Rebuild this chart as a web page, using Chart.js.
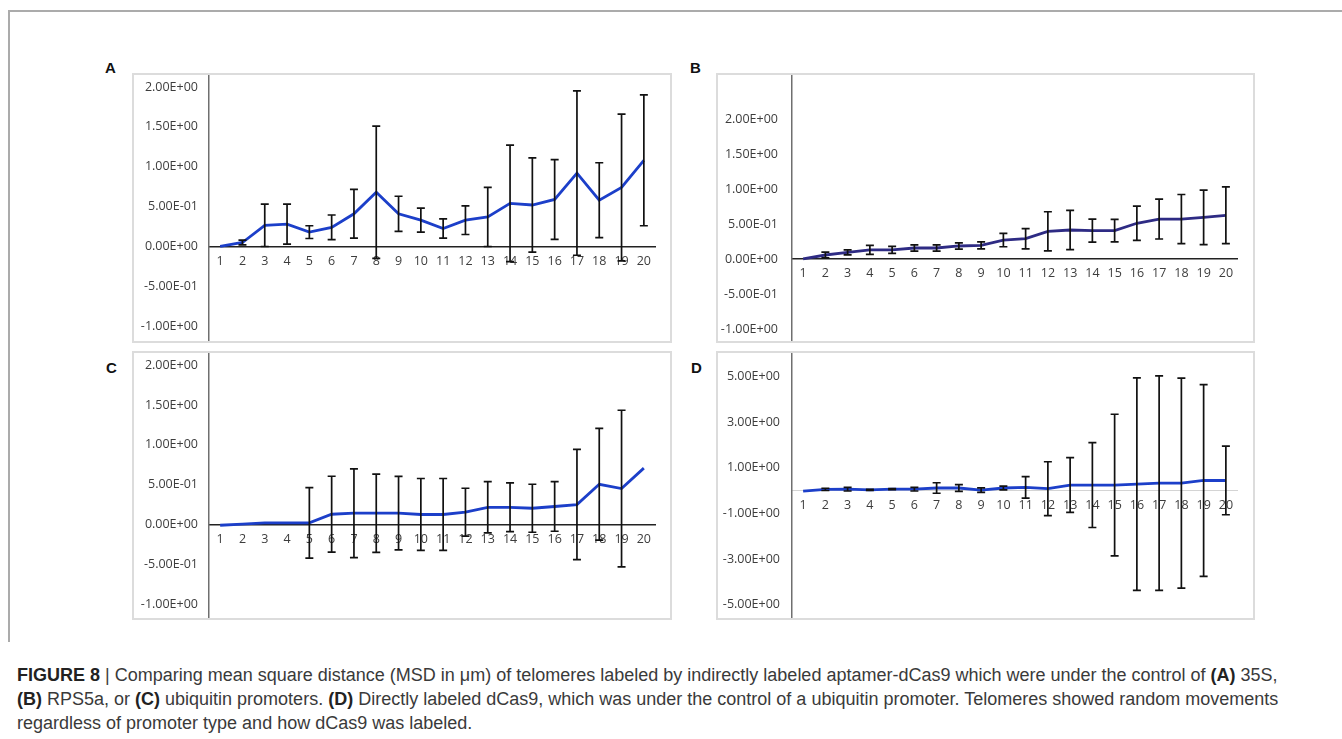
<!DOCTYPE html>
<html>
<head>
<meta charset="utf-8">
<script src="https://cdn.jsdelivr.net/npm/chart.js@4.4.0/dist/chart.umd.min.js"></script>
<style>
body { margin:0; width:1342px; height:739px; background:#fff; position:relative; overflow:hidden; font-family:"Liberation Sans", Arial, sans-serif; }
.frameTop { position:absolute; left:8px; top:10px; width:1334px; height:2px; background:#ababab; }
.frameLeft { position:absolute; left:8px; top:10px; width:2px; height:632px; background:#ababab; }
.panel { position:absolute; }
.box { position:absolute; border:2px solid #dcdcdc; box-sizing:border-box; pointer-events:none; }
.letter { position:absolute; font:bold 15px "Liberation Sans", Arial, sans-serif; color:#111; line-height:15px; }
.caption { position:absolute; left:17px; top:663px; font-size:18px; line-height:24px; color:#3a3a3a; white-space:nowrap; }
.caption b { color:#222; }
</style>
</head>
<body>
<div class="frameTop"></div>
<div class="frameLeft"></div>

<div class="letter" style="left:105px;top:60px">A</div>
<div class="letter" style="left:690px;top:60px">B</div>
<div class="letter" style="left:106px;top:360px">C</div>
<div class="letter" style="left:691px;top:360px">D</div>

<div class="panel" style="left:132px;top:73px;width:540px;height:270px"><canvas id="chartA"></canvas></div>
<div class="panel" style="left:716px;top:73px;width:539px;height:270px"><canvas id="chartB"></canvas></div>
<div class="panel" style="left:132px;top:351px;width:540px;height:269px"><canvas id="chartC"></canvas></div>
<div class="panel" style="left:716px;top:351px;width:539px;height:269px"><canvas id="chartD"></canvas></div>
<div class="box" style="left:132px;top:73px;width:540px;height:270px"></div>
<div class="box" style="left:716px;top:73px;width:539px;height:270px"></div>
<div class="box" style="left:132px;top:351px;width:540px;height:269px"></div>
<div class="box" style="left:716px;top:351px;width:539px;height:269px"></div>

<div class="caption">
<b>FIGURE 8</b> | Comparing mean square distance (MSD in μm) of telomeres labeled by indirectly labeled aptamer-dCas9 which were under the control of <b>(A)</b> 35S,<br>
<b>(B)</b> RPS5a, or <b>(C)</b> ubiquitin promoters. <b>(D)</b> Directly labeled dCas9, which was under the control of a ubiquitin promoter. Telomeres showed random movements<br>
regardless of promoter type and how dCas9 was labeled.
</div>

<script>
// time steps
const steps = ['1','2','3','4','5','6','7','8','9','10','11','12','13','14','15','16','17','18','19','20'];

// A: 35S
const meanA = [0, 0.05, 0.265, 0.28, 0.18, 0.24, 0.41, 0.68, 0.41, 0.33, 0.225, 0.33, 0.37, 0.54, 0.52, 0.59, 0.92, 0.58, 0.74, 1.08];
const errA  = [0, 0.03, 0.265, 0.25, 0.08, 0.155, 0.305, 0.83, 0.22, 0.15, 0.12, 0.18, 0.37, 0.73, 0.59, 0.5, 1.03, 0.47, 0.92, 0.82];

// B: RPS5a
const meanB = [0, 0.057, 0.095, 0.13, 0.13, 0.157, 0.157, 0.186, 0.195, 0.27, 0.29, 0.395, 0.414, 0.405, 0.405, 0.51, 0.571, 0.571, 0.595, 0.624];
const errB  = [0, 0.04, 0.035, 0.065, 0.05, 0.045, 0.045, 0.045, 0.05, 0.095, 0.145, 0.28, 0.28, 0.165, 0.16, 0.245, 0.285, 0.35, 0.39, 0.405];

// C: ubiquitin (aptamer)
const meanC = [-0.005, 0.01, 0.025, 0.025, 0.025, 0.133, 0.146, 0.146, 0.146, 0.13, 0.13, 0.158, 0.22, 0.22, 0.208, 0.23, 0.254, 0.508, 0.454, 0.71];
const errC  = [0, 0, 0, 0, 0.44, 0.475, 0.555, 0.49, 0.46, 0.45, 0.45, 0.3, 0.32, 0.305, 0.3, 0.31, 0.69, 0.7, 0.98, 0];

// D: direct dCas9
const meanD = [-0.02, 0.06, 0.07, 0.04, 0.07, 0.07, 0.12, 0.12, 0.03, 0.12, 0.146, 0.09, 0.25, 0.25, 0.25, 0.29, 0.335, 0.335, 0.45, 0.45];
const errD  = [0, 0.05, 0.08, 0.02, 0.02, 0.08, 0.23, 0.15, 0.1, 0.08, 0.47, 1.18, 1.2, 1.86, 3.1, 4.65, 4.7, 4.6, 4.2, 1.5];

// y tick values
const ticksABC = [-1, -0.5, 0, 0.5, 1, 1.5, 2];
const ticksD = [-5, -3, -1, 1, 3, 5];

// formato cientifico estilo Excel: 5.00E-01
function sci(v) {
    const parts = v.toExponential(2).split('e');
    const n = parseInt(parts[1], 10);
    return parts[0] + 'E' + (n < 0 ? '-' : '+') + String(Math.abs(n)).padStart(2, '0');
}

const errorBars = {
    id: 'errorBars',
    afterDatasetsDraw(chart, args, opts) {
        const ctx = chart.ctx;
        const x = chart.scales.x, y = chart.scales.y;
        const data = chart.data.datasets[0].data;
        ctx.save();
        ctx.strokeStyle = '#111';
        ctx.lineWidth = 1.7;
        opts.errs.forEach((e, i) => {
            if (!e) return;
            const px = x.getPixelForValue(i);
            const top = y.getPixelForValue(data[i] + e);
            const bot = y.getPixelForValue(data[i] - e);
            ctx.beginPath();
            ctx.moveTo(px, top); ctx.lineTo(px, bot);
            ctx.moveTo(px - 4, top); ctx.lineTo(px + 4, top);
            ctx.moveTo(px - 4, bot); ctx.lineTo(px + 4, bot);
            ctx.stroke();
        });
        ctx.restore();
    }
};

function makePanel(id, means, errs, cfg) {
    return new Chart(document.getElementById(id), {
        type: 'line',
        data: {
            labels: steps,
            datasets: [{
                data: means,
                borderColor: cfg.color,
                borderWidth: 2.8,
                pointRadius: 0,
                tension: 0,
                fill: false
            }]
        },
        options: {
            responsive: true,
            maintainAspectRatio: false,
            animation: false,
            layout: { padding: { left: 0, right: cfg.padRight, top: 0, bottom: 0 } },
            plugins: {
                legend: { display: false },
                tooltip: { enabled: false },
                errorBars: { errs: errs }
            },
            scales: {
                x: {
                    type: 'category',
                    position: { y: 0 },
                    offset: true,
                    grid: { drawOnChartArea: false, drawTicks: false },
                    border: { color: cfg.zeroColor, width: cfg.zeroWidth },
                    ticks: {
                        color: '#3d3d3d',
                        font: { family: 'Open Sans', size: 12.5 },
                        padding: 7,
                        maxRotation: 0,
                        autoSkip: false
                    }
                },
                y: {
                    type: 'linear',
                    min: cfg.min,
                    max: cfg.max,
                    afterBuildTicks: s => { s.ticks = cfg.ticks.map(v => ({ value: v })); },
                    afterFit: s => { s.width = cfg.yWidth; s.paddingTop = 0; s.paddingBottom = 0; },
                    grid: { drawOnChartArea: false, drawTicks: false },
                    border: { color: '#6f6f6f', width: 1.5 },
                    ticks: {
                        color: '#3d3d3d',
                        font: { family: 'Open Sans', size: 12.5 },
                        padding: cfg.labelPad,
                        autoSkip: false,
                        callback: v => sci(v)
                    }
                }
            }
        },
        plugins: [errorBars]
    });
}

makePanel('chartA', meanA, errA, { color: '#1c3fc9', zeroColor: '#222', zeroWidth: 1.5, min: -1.21, max: 2.175, ticks: ticksABC, yWidth: 77, labelPad: 11, padRight: 17 });
makePanel('chartB', meanB, errB, { color: '#2e2b84', zeroColor: '#222', zeroWidth: 1.5, min: -1.2, max: 2.657, ticks: ticksABC, yWidth: 76, labelPad: 14, padRight: 18 });
makePanel('chartC', meanC, errC, { color: '#1c3fc9', zeroColor: '#222', zeroWidth: 1.5, min: -1.19, max: 2.175, ticks: ticksABC, yWidth: 77, labelPad: 11, padRight: 17 });
makePanel('chartD', meanD, errD, { color: '#1c3fc9', zeroColor: '#d4d4d4', zeroWidth: 1, min: -5.66, max: 6.12, ticks: ticksD, yWidth: 76, labelPad: 12, padRight: 18 });
</script>
</body>
</html>
